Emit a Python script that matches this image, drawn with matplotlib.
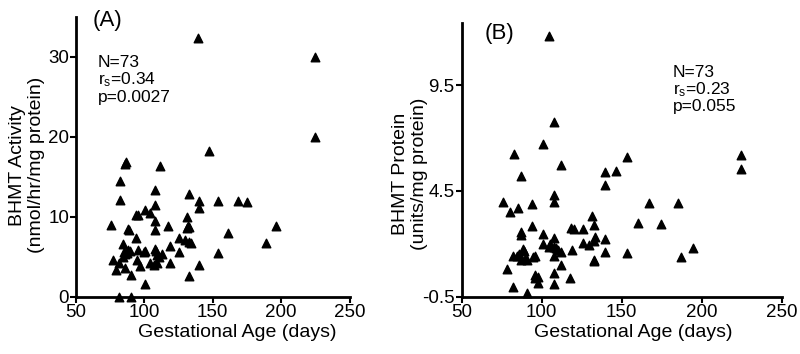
import numpy as np
import matplotlib
matplotlib.use("Agg")
import matplotlib.pyplot as plt

plt.rcParams['font.family'] = ['Liberation Sans', 'DejaVu Sans']

# Panel A: gestational age (days) vs BHMT activity
age_a = [146.9, 86.6, 85.9, 111.5, 82.4, 82.4, 107.6, 132.7, 139.8, 139.8,
         154.0, 168.1, 175.2, 107.6, 100.5, 104.4, 93.9, 95.6, 131.3, 107.6,
         75.4, 117.6, 132.0, 132.9, 196.2, 88.3, 88.8, 107.6, 161.1, 125.6,
         93.7, 129.6, 132.7, 134.2, 189.1, 84.2, 118.8, 95.2, 107.6, 85.1,
         87.1, 89.5, 100.5, 108.6, 125.6, 154.0, 109.1, 84.6, 111.0, 77.3,
         94.9, 81.7, 104.2, 109.3, 118.8, 107.1, 96.9, 86.1, 79.3, 139.8,
         90.3, 132.7, 100.5, 81.3, 90.3, 139.5, 224.4, 224.4, 86.0, 88.0,
         112.5, 99.5, 131.0]
act_a = [18.2, 16.8, 16.6, 16.4, 14.5, 12.1, 13.4, 12.9, 12.0, 11.1,
         12.0, 12.0, 11.9, 11.5, 10.9, 10.5, 10.25, 10.2, 10.0, 9.5,
         9.0, 8.9, 8.9, 8.7, 8.9, 8.5, 8.4, 8.3, 8.0, 7.4,
         7.3, 7.1, 6.8, 6.7, 6.7, 6.6, 6.3, 5.8, 6.0, 5.6,
         5.5, 5.7, 5.7, 5.75, 5.6, 5.5, 5.25, 4.95, 5.0, 4.6,
         4.6, 4.2, 4.2, 4.2, 4.2, 4.0, 3.8, 3.55, 3.3, 3.9,
         2.75, 2.6, 1.6, 0.0, 0.0, 32.4, 30.0, 20.0, 5.3, 5.9,
         5.4, 5.6, 8.6]

# Panel B: gestational age (days) vs BHMT protein
age_b = [104.8, 107.7, 100.8, 82.9, 153.3, 111.9, 139.4, 146.4, 86.9, 139.4,
         107.9, 107.9, 76.0, 93.9, 167.3, 85.0, 80.0, 131.4, 132.5, 93.9,
         160.2, 174.6, 118.5, 125.6, 86.9, 86.9, 100.8, 107.9, 100.8, 132.5,
         139.4, 125.8, 129.8, 133.1, 104.6, 107.9, 110.4, 107.9, 111.9, 118.8,
         139.4, 153.3, 82.3, 84.8, 88.1, 88.9, 87.1, 91.0, 94.4, 96.0,
         132.5, 111.9, 78.1, 96.0, 96.0, 97.7, 107.9, 107.9, 117.7, 82.3,
         91.0, 185.2, 187.1, 194.6, 224.4, 224.4, 133.0, 86.0, 109.0, 105.5,
         89.5, 98.0, 120.0]
prot_b = [11.84, 7.75, 6.73, 6.25, 6.1, 5.73, 5.39, 5.46, 5.2, 4.79,
          4.3, 3.97, 3.97, 3.9, 3.95, 3.68, 3.49, 3.3, 2.91, 2.85,
          2.97, 2.93, 2.74, 2.69, 2.58, 2.42, 2.48, 2.29, 1.99, 2.12,
          2.22, 2.03, 1.96, 2.34, 1.84, 1.84, 1.71, 1.43, 1.62, 1.71,
          1.6, 1.55, 1.43, 1.43, 1.74, 1.66, 1.24, 1.24, 1.39, 1.43,
          1.24, 0.99, 0.81, 0.53, 0.37, 0.13, 0.64, 0.09, 0.37, -0.03,
          -0.31, 3.93, 1.37, 1.8, 6.2, 5.54, 1.2, 1.5, 1.8, 2.0,
          1.3, 0.45, 2.7]

fig = plt.figure(figsize=(8, 3.54), dpi=100)
ax_a = fig.add_axes([0.095, 0.162, 0.342, 0.790])
ax_b = fig.add_axes([0.577, 0.162, 0.400, 0.773])

for ax in (ax_a, ax_b):
    for s in ('top', 'right'):
        ax.spines[s].set_visible(False)
    for s in ('left', 'bottom'):
        ax.spines[s].set_linewidth(2)
    ax.tick_params(direction='out', length=4, width=1.5, labelsize=13.5, pad=1)
    ax.set_xlim(50, 250)
    ax.set_xticks([50, 100, 150, 200, 250])
    ax.set_xlabel('Gestational Age (days)', fontsize=14)

ax_a.scatter(age_a, act_a, marker='^', s=38, color='black', clip_on=False, zorder=3)
ax_a.set_ylim(0, 35)
ax_a.set_yticks([0, 10, 20, 30])
ax_a.set_ylabel('BHMT Activity\n(nmol/hr/mg protein)', fontsize=14, linespacing=1.15)
ax_a.xaxis.set_label_coords(0.589, -0.098)
ax_a.yaxis.set_label_coords(-0.115, 0.47)
ax_a.text(0.06, 0.988, '(A)', transform=ax_a.transAxes, fontsize=16, va='center')
ax_a.text(0.08, 0.865, 'N=73\n$\\mathregular{r_s}$=0.34\np=0.0027',
          transform=ax_a.transAxes, fontsize=12.5, va='top', linespacing=1.05)

ax_b.scatter(age_b, prot_b, marker='^', s=38, color='black', clip_on=False, zorder=3)
ax_b.set_ylim(-0.5, 12.45)
ax_b.set_yticks([-0.5, 4.5, 9.5])
ax_b.set_yticklabels(['-0.5', '4.5', '9.5'])
ax_b.set_ylabel('BHMT Protein\n(units/mg protein)', fontsize=14, linespacing=1.15)
ax_b.xaxis.set_label_coords(0.535, -0.1)
ax_b.yaxis.set_label_coords(-0.105, 0.45)
ax_b.text(0.073, 0.962, '(B)', transform=ax_b.transAxes, fontsize=16, va='center')
ax_b.text(0.66, 0.845, 'N=73\n$\\mathregular{r_s}$=0.23\np=0.055',
          transform=ax_b.transAxes, fontsize=12.5, va='top', linespacing=1.0)

fig.savefig('out.png', dpi=100)
